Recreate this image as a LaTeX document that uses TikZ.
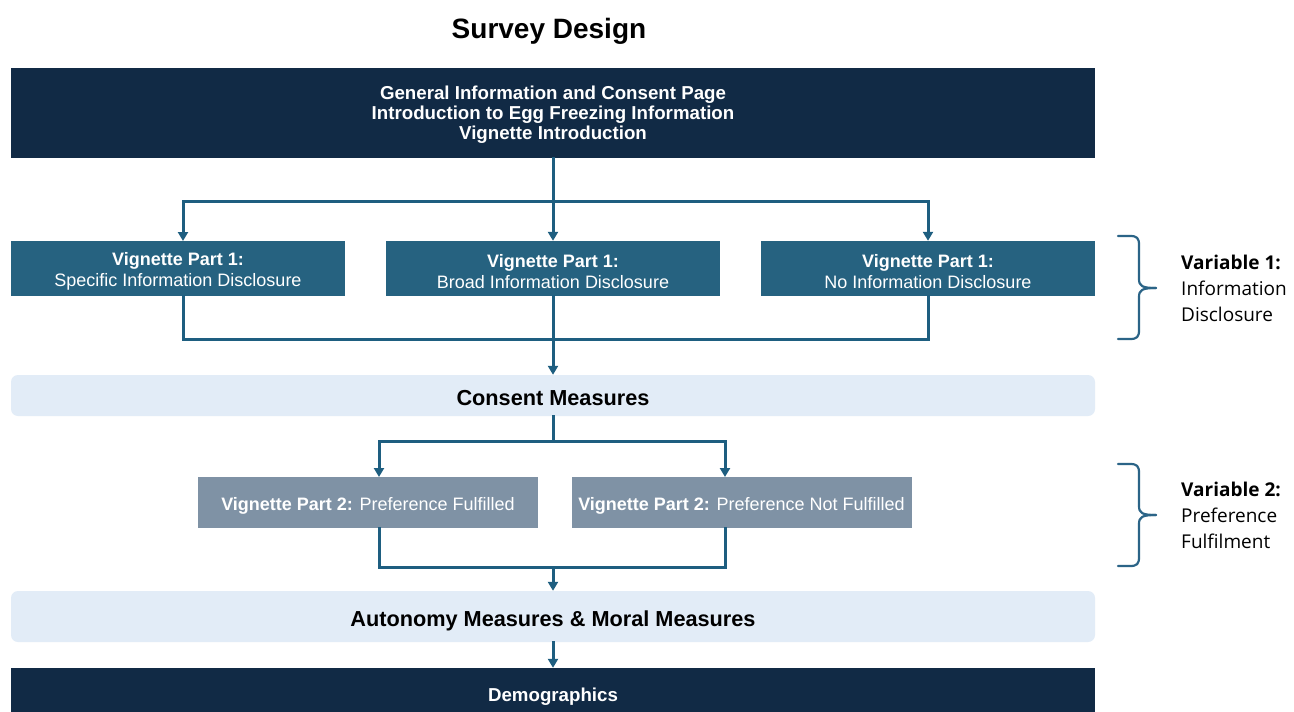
\documentclass[tikz,border=0pt]{standalone}
\usepackage{fontspec}
\setmainfont{Liberation Sans}
\newfontfamily\labelfont{Open Sans}
\usetikzlibrary{arrows.meta}

\definecolor{navy}{RGB}{17,42,69}
\definecolor{vblue}{RGB}{38,98,128}
\definecolor{vgray}{RGB}{127,146,165}
\definecolor{paleblue}{RGB}{226,236,247}
\definecolor{lineblue}{RGB}{30,94,128}
\definecolor{braceblue}{RGB}{43,100,135}

% invisible strut that lowers a node's text inside its box
\newcommand{\topstrut}[1]{\rule{0pt}{#1pt}}

\begin{document}
\begin{tikzpicture}[x=1pt,y=-1pt,
  titletext/.style={font=\fontsize{28}{32}\selectfont\bfseries, text=black, inner sep=0pt},
  darkbox/.style={fill=navy, text=white, minimum width=1084pt, inner sep=0pt, align=center,
    font=\fontsize{18.7}{20}\selectfont\bfseries},
  vonebox/.style={fill=vblue, text=white, minimum width=334pt, minimum height=55pt, inner sep=0pt,
    align=center, font=\fontsize{18}{21}\selectfont},
  vtwobox/.style={fill=vgray, text=white, minimum width=340pt, minimum height=51pt, inner sep=0pt,
    align=center, font=\fontsize{18}{21}\selectfont},
  measure/.style={fill=paleblue, rounded corners=7pt, minimum width=1084pt, inner sep=0pt,
    text=black, font=\fontsize{21.7}{24}\selectfont\bfseries},
  link/.style={draw=lineblue, line width=3pt, line cap=rect},
  arr/.style={link, -{Triangle[length=9pt,width=10pt]}},
  brace/.style={draw=braceblue, line width=2.2pt, line cap=round, line join=round},
  varlabel/.style={anchor=west, align=left, inner sep=0pt, text=black,
    font=\labelfont\fontsize{19}{26}\selectfont}
]
\useasboundingbox (0,0) rectangle (1294,712);
\fill[white] (0,0) rectangle (1294,712);

% heading
\node[titletext] (title) at (549,28) {\topstrut{26}Survey Design};

% boxes
\node[darkbox, minimum height=90pt] (intro) at (553,113)
  {\topstrut{17.5}General Information and Consent Page\\Introduction to Egg Freezing Information\\Vignette Introduction};

\node[vonebox] (v1a) at (178,268.5) {\topstrut{19}\textbf{Vignette Part 1:}\\Specific Information Disclosure};
\node[vonebox] (v1b) at (553,268.5) {\topstrut{19}\textbf{Vignette Part 1:}\\Broad Information Disclosure};
\node[vonebox] (v1c) at (928,268.5) {\topstrut{19}\textbf{Vignette Part 1:}\\No Information Disclosure};

\node[measure, minimum height=41pt] (consent) at (553,395.5) {\topstrut{19.5}Consent Measures};

\node[vtwobox] (v2a) at (368,502.5) {\topstrut{19}\textbf{Vignette Part 2:} Preference Fulfilled};
\node[vtwobox] (v2b) at (741.5,502.5) {\topstrut{19}\textbf{Vignette Part 2:} Preference Not Fulfilled};

\node[measure, minimum height=51pt] (auto) at (553,616.5) {\topstrut{24.5}Autonomy Measures \& Moral Measures};

\node[darkbox, minimum height=52pt] (demo) at (553,694) {\topstrut{19.5}Demographics};

% bus points
\coordinate (s1) at (553,201);
\coordinate (j1) at (553,339);
\coordinate (s2) at (553,441);
\coordinate (j2) at (553,567);
\coordinate (v1ain) at (183,241);
\coordinate (v1aout) at (183,296);
\coordinate (v2ain) at (379,477);
\coordinate (v2bin) at (725,477);
\coordinate (v2aout) at (379,528);
\coordinate (v2bout) at (725,528);

% connectors, first split
\draw[link] (intro.south) -- (s1);
\draw[arr] (s1) -| (v1ain);
\draw[arr] (s1) -- (v1b.north);
\draw[arr] (s1) -| (v1c.north);
\draw[link] (v1aout) |- (j1);
\draw[link] (v1c.south) |- (j1);
\draw[link] (v1b.south) -- (j1);
\draw[arr] (j1) -- (consent.north);

% connectors, second split
\draw[link] (consent.south) -- (s2);
\draw[arr] (s2) -| (v2ain);
\draw[arr] (s2) -| (v2bin);
\draw[link] (v2aout) |- (j2);
\draw[link] (v2bout) |- (j2);
\draw[arr] (j2) -- (auto.north);
\draw[arr] (auto.south) -- (demo.north);

% braces
\draw[brace] (1118,236) -- (1130,236) .. controls (1137,236) and (1139,238) .. (1139,245)
  -- (1139,279) .. controls (1139,286) and (1142,288) .. (1156,288);
\draw[brace] (1118,339) -- (1130,339) .. controls (1137,339) and (1139,337) .. (1139,330)
  -- (1139,297) .. controls (1139,290) and (1142,288) .. (1156,288);
\draw[brace] (1118,464) -- (1130,464) .. controls (1137,464) and (1139,466) .. (1139,473)
  -- (1139,506) .. controls (1139,513) and (1142,515) .. (1156,515);
\draw[brace] (1118,566) -- (1130,566) .. controls (1137,566) and (1139,564) .. (1139,557)
  -- (1139,524) .. controls (1139,517) and (1142,515) .. (1156,515);

% variable labels
\node[varlabel] (var1) at (1181,288) {\textbf{Variable 1:}\\Information\\Disclosure};
\node[varlabel] (var2) at (1181,515) {\textbf{Variable 2:}\\Preference\\Fulfilment};
\end{tikzpicture}
\end{document}
